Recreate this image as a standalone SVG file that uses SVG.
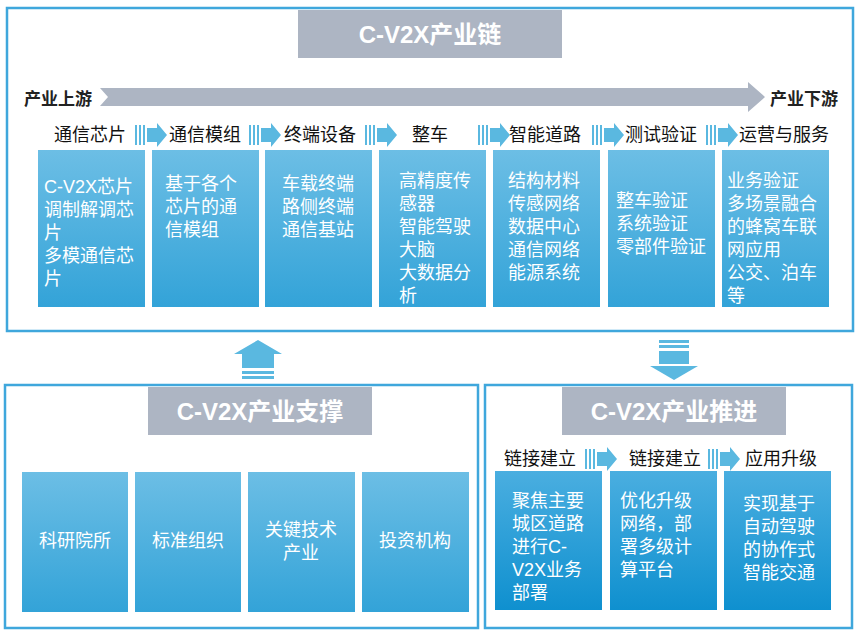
<svg xmlns="http://www.w3.org/2000/svg" width="858" height="637" viewBox="0 0 858 637">
<defs>
<linearGradient id="g" x1="0" y1="0" x2="0" y2="1"><stop offset="0" stop-color="#6cbee5"/><stop offset="1" stop-color="#33a3d8"/></linearGradient>
<linearGradient id="g2" x1="0" y1="0" x2="0" y2="1"><stop offset="0" stop-color="#4aaee0"/><stop offset="1" stop-color="#0f90cf"/></linearGradient>
<g id="sa"><rect x="0" y="-10" width="2" height="20"/><rect x="4" y="-10" width="2" height="20"/><rect x="8" y="-10" width="2" height="20"/><path d="M12,-7 H22 V-12 L32,0 L22,12 V7 H12 Z"/></g>
</defs>
<style>
.frame{fill:#fff;stroke:#3fa7dc;stroke-width:2.5}
.title{fill:#adb5c3}
.tt{font-family:"Liberation Sans","Noto Sans CJK SC",sans-serif;font-weight:bold;font-size:24px;fill:#fff;text-anchor:middle}
.lab{font-family:"Liberation Sans","Noto Sans CJK SC",sans-serif;font-size:18px;fill:#111;text-anchor:middle}
.bl{font-family:"Liberation Sans","Noto Sans CJK SC",sans-serif;font-weight:bold;font-size:17px;fill:#222}
.bx{fill:url(#g)}
.bx2{fill:url(#g2)}
.t{font-family:"Liberation Sans","Noto Sans CJK SC",sans-serif;font-size:18px;fill:#fff}
.tc{font-family:"Liberation Sans","Noto Sans CJK SC",sans-serif;font-size:18px;fill:#fff;text-anchor:middle}
.ar{fill:#5ab8e0}
</style>
<rect class="frame" x="7" y="8" width="846" height="323"/>
<rect class="frame" x="5" y="385" width="473" height="243"/>
<rect class="frame" x="485" y="385" width="367" height="243"/>
<rect class="title" x="298" y="10" width="264" height="48"/>
<text class="tt" x="430" y="43">C-V2X产业链</text>
<rect class="title" x="148" y="387" width="224" height="48"/>
<text class="tt" x="260" y="420">C-V2X产业支撑</text>
<rect class="title" x="562" y="387" width="224" height="48"/>
<text class="tt" x="674" y="420">C-V2X产业推进</text>
<g id="connectors">
<path d="M100,88 H748 V82 L765,97 L748,112 V106 H100 L108,97 Z" fill="#adb5c3"/>
<g class="ar">
<use href="#sa" x="135" y="135"/><use href="#sa" x="249" y="135"/><use href="#sa" x="365" y="135"/><use href="#sa" x="478" y="135"/><use href="#sa" x="592" y="135"/><use href="#sa" x="706" y="135"/>
<use href="#sa" x="585" y="459"/><use href="#sa" x="708" y="459"/>
<path d="M234,354 L258,340 L282,354 H274 V368 H242 V354 Z"/><rect x="242" y="371" width="32" height="3"/><rect x="242" y="376" width="32" height="3"/>
<rect x="659" y="340" width="30" height="3"/><rect x="659" y="345" width="30" height="3"/><rect x="659" y="351" width="30" height="13"/><path d="M650,366 H698 L674,380 Z"/>
</g>
</g>
<text class="bl" x="24" y="105">产业上游</text>
<text class="bl" x="770" y="105">产业下游</text>
<g class="lab"><text x="90" y="141">通信芯片</text><text x="205" y="141">通信模组</text><text x="320" y="141">终端设备</text><text x="430" y="141">整车</text><text x="545" y="141">智能道路</text><text x="661" y="141">测试验证</text><text x="784" y="141">运营与服务</text>
<text x="540" y="465">链接建立</text><text x="665" y="465">链接建立</text><text x="781" y="465">应用升级</text></g>
<g id="n1"><rect class="bx" x="38" y="150" width="107" height="157"/><text class="t" x="44" y="193">C-V2X芯片<tspan x="44" dy="23">调制解调芯</tspan><tspan x="44" dy="23">片</tspan><tspan x="44" dy="23">多模通信芯</tspan><tspan x="44" dy="23">片</tspan></text></g>
<g id="n2"><rect class="bx" x="152" y="150" width="107" height="157"/><text class="t" x="165" y="190">基于各个<tspan x="165" dy="23">芯片的通</tspan><tspan x="165" dy="23">信模组</tspan></text></g>
<g id="n3"><rect class="bx" x="265" y="150" width="107" height="157"/><text class="t" x="282" y="190">车载终端<tspan x="282" dy="23">路侧终端</tspan><tspan x="282" dy="23">通信基站</tspan></text></g>
<g id="n4"><rect class="bx" x="379" y="150" width="107" height="157"/><text class="t" x="399" y="187">高精度传<tspan x="399" dy="23">感器</tspan><tspan x="399" dy="23">智能驾驶</tspan><tspan x="399" dy="23">大脑</tspan><tspan x="399" dy="23">大数据分</tspan><tspan x="399" dy="23">析</tspan></text></g>
<g id="n5"><rect class="bx" x="493" y="150" width="107" height="157"/><text class="t" x="508" y="187">结构材料<tspan x="508" dy="23">传感网络</tspan><tspan x="508" dy="23">数据中心</tspan><tspan x="508" dy="23">通信网络</tspan><tspan x="508" dy="23">能源系统</tspan></text></g>
<g id="n6"><rect class="bx" x="608" y="150" width="107" height="157"/><text class="t" x="616" y="207">整车验证<tspan x="616" dy="23">系统验证</tspan><tspan x="616" dy="23">零部件验证</tspan></text></g>
<g id="n7"><rect class="bx" x="722" y="150" width="107" height="157"/><text class="t" x="727" y="187">业务验证<tspan x="727" dy="23">多场景融合</tspan><tspan x="727" dy="23">的蜂窝车联</tspan><tspan x="727" dy="23">网应用</tspan><tspan x="727" dy="23">公交、泊车</tspan><tspan x="727" dy="23">等</tspan></text></g>
<g id="s1"><rect class="bx" x="22" y="472" width="106" height="140"/><text class="tc" x="75" y="547">科研院所</text></g>
<g id="s2"><rect class="bx" x="135" y="472" width="106" height="140"/><text class="tc" x="188" y="547">标准组织</text></g>
<g id="s3"><rect class="bx" x="248" y="472" width="107" height="140"/><text class="tc" x="301" y="536">关键技术<tspan x="301" dy="23">产业</tspan></text></g>
<g id="s4"><rect class="bx" x="362" y="472" width="107" height="140"/><text class="tc" x="415" y="547">投资机构</text></g>
<g id="p1"><rect class="bx2" x="495" y="471" width="107" height="139"/><text class="t" x="512" y="507">聚焦主要<tspan x="512" dy="23">城区道路</tspan><tspan x="512" dy="23">进行C-</tspan><tspan x="512" dy="23">V2X业务</tspan><tspan x="512" dy="23">部署</tspan></text></g>
<g id="p2"><rect class="bx2" x="610" y="471" width="107" height="139"/><text class="t" x="620" y="507">优化升级<tspan x="620" dy="23">网络，部</tspan><tspan x="620" dy="23">署多级计</tspan><tspan x="620" dy="23">算平台</tspan></text></g>
<g id="p3"><rect class="bx2" x="724" y="471" width="107" height="139"/><text class="t" x="743" y="510">实现基于<tspan x="743" dy="23">自动驾驶</tspan><tspan x="743" dy="23">的协作式</tspan><tspan x="743" dy="23">智能交通</tspan></text></g>
</svg>
